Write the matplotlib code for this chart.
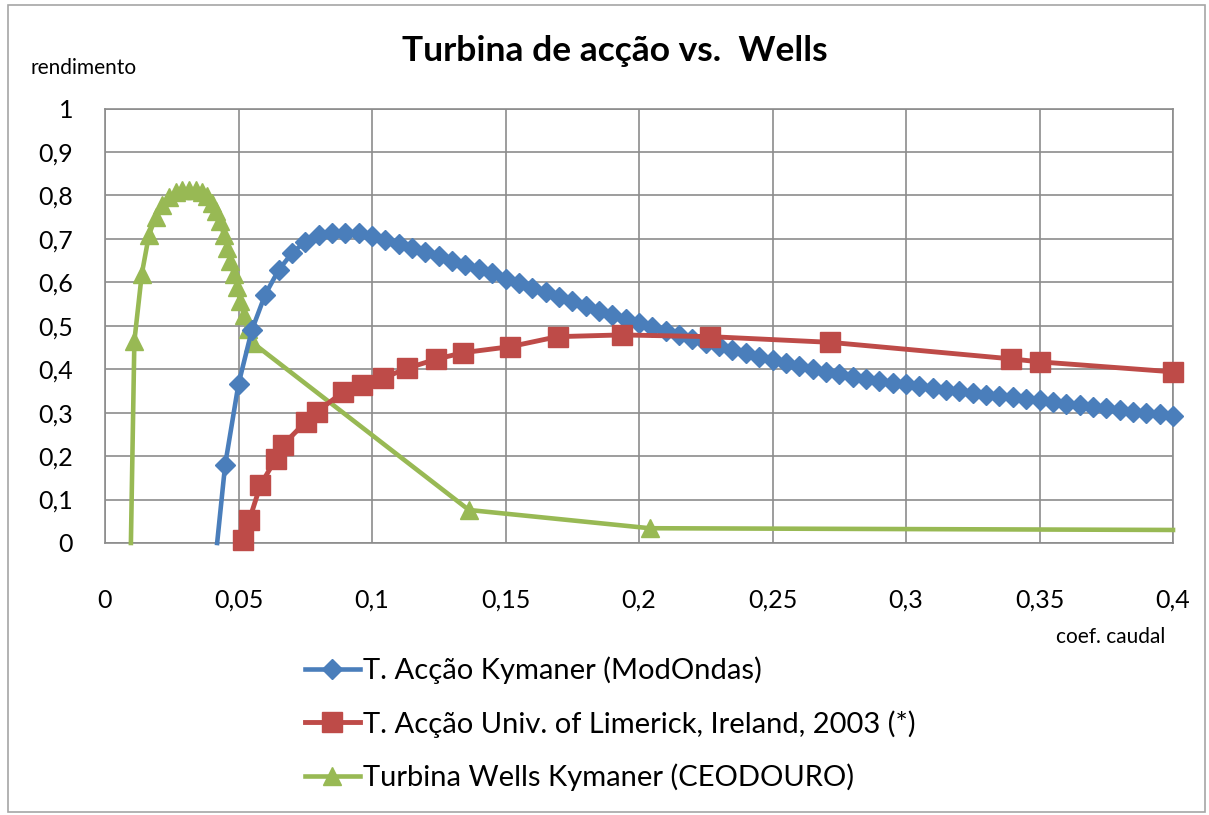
import matplotlib
matplotlib.use("Agg")
import matplotlib.pyplot as plt
from matplotlib.patches import Rectangle

# ---------------- data ----------------
# T. Acção Kymaner (ModOndas) - first point is the unmarked foot of the curve
blue_x = [0.042, 0.045, 0.050, 0.055, 0.060, 0.065, 0.070, 0.075, 0.080, 0.085,
          0.090, 0.095, 0.100, 0.105, 0.110, 0.115, 0.120, 0.125, 0.130, 0.135,
          0.140, 0.145, 0.150, 0.155, 0.160, 0.165, 0.170, 0.175, 0.180, 0.185,
          0.190, 0.195, 0.200, 0.205, 0.210, 0.215, 0.220, 0.225, 0.230, 0.235,
          0.240, 0.245, 0.250, 0.255, 0.260, 0.265, 0.270, 0.275, 0.280, 0.285,
          0.290, 0.295, 0.300, 0.305, 0.310, 0.315, 0.320, 0.325, 0.330, 0.335,
          0.340, 0.345, 0.350, 0.355, 0.360, 0.365, 0.370, 0.375, 0.380, 0.385,
          0.390, 0.395, 0.400]
blue_y = [0.0, 0.180, 0.366, 0.490, 0.572, 0.628, 0.667, 0.694, 0.708, 0.713,
          0.714, 0.714, 0.707, 0.698, 0.689, 0.680, 0.670, 0.660, 0.650, 0.641,
          0.631, 0.621, 0.608, 0.598, 0.587, 0.577, 0.566, 0.556, 0.545, 0.535,
          0.525, 0.515, 0.507, 0.497, 0.488, 0.479, 0.470, 0.461, 0.453, 0.445,
          0.437, 0.429, 0.421, 0.414, 0.407, 0.400, 0.394, 0.388, 0.383, 0.378,
          0.373, 0.369, 0.365, 0.361, 0.357, 0.353, 0.349, 0.345, 0.341, 0.338,
          0.335, 0.332, 0.329, 0.325, 0.321, 0.317, 0.313, 0.310, 0.306, 0.302,
          0.299, 0.296, 0.293]

# T. Acção Univ. of Limerick, Ireland, 2003 (*)
red_x = [0.0515, 0.0540, 0.0582, 0.0640, 0.0665, 0.0752, 0.0793, 0.0893, 0.0962,
         0.1040, 0.1130, 0.1240, 0.1340, 0.1518, 0.1695, 0.1935, 0.2267, 0.2715,
         0.3392, 0.3500, 0.4000]
red_y = [0.008, 0.052, 0.133, 0.194, 0.225, 0.279, 0.302, 0.348, 0.363,
         0.379, 0.402, 0.423, 0.438, 0.452, 0.475, 0.479, 0.475, 0.462,
         0.424, 0.417, 0.394]

# Turbina Wells Kymaner (CEODOURO) - first and last points drawn without marker
green_x = [0.0097, 0.0110, 0.0138, 0.0165, 0.0190, 0.0215, 0.0240, 0.0265, 0.0290,
           0.0315, 0.0340, 0.0362, 0.0382, 0.0400, 0.0415, 0.0430, 0.0445, 0.0458,
           0.0470, 0.0482, 0.0494, 0.0506, 0.0520, 0.0535, 0.0555, 0.1363, 0.2040,
           0.4000]
green_y = [0.0, 0.465, 0.620, 0.710, 0.750, 0.778, 0.797, 0.807, 0.812,
           0.813, 0.812, 0.807, 0.798, 0.783, 0.765, 0.742, 0.710, 0.680,
           0.650, 0.620, 0.590, 0.558, 0.525, 0.492, 0.460, 0.076, 0.034,
           0.030]

series_labels = ["T. Acção Kymaner (ModOndas)",
                 "T. Acção Univ. of Limerick, Ireland, 2003 (*)",
                 "Turbina Wells Kymaner (CEODOURO)"]

x_ticks = [0, 0.05, 0.1, 0.15, 0.2, 0.25, 0.3, 0.35, 0.4]
x_ticklabels = ["0", "0,05", "0,1", "0,15", "0,2", "0,25", "0,3", "0,35", "0,4"]
y_ticks = [0, 0.1, 0.2, 0.3, 0.4, 0.5, 0.6, 0.7, 0.8, 0.9, 1]
y_ticklabels = ["0", "0,1", "0,2", "0,3", "0,4", "0,5", "0,6", "0,7", "0,8", "0,9", "1"]

# ---------------- figure ----------------
plt.rcParams['font.family'] = ['Lato', 'DejaVu Sans']

W, H = 1209, 815
fig = plt.figure(figsize=(W / 100, H / 100), dpi=100)
fig.patch.set_facecolor("white")

# outer chart border
fig.patches.append(Rectangle((8 / W, 1 - 812 / H), 1197 / W, 807 / H,
                             transform=fig.transFigure, fill=False,
                             edgecolor="#a6a6a6", linewidth=1.2))

left, right, top, bottom = 105, 1173, 108.6, 543
ax = fig.add_axes([left / W, 1 - bottom / H, (right - left) / W, (bottom - top) / H])

BLUE, RED, GREEN = "#4A7EBB", "#BE4B48", "#98B954"

ax.plot(green_x, green_y, color=GREEN, lw=3.3, marker="^", ms=13,
        markevery=list(range(1, len(green_x) - 1)), label=series_labels[2], zorder=3)
ax.plot(blue_x, blue_y, color=BLUE, lw=3.3, marker="D", ms=10,
        markevery=list(range(1, len(blue_x))), label=series_labels[0], zorder=4)
ax.plot(red_x, red_y, color=RED, lw=3.5, marker="s", ms=14,
        label=series_labels[1], zorder=5)

ax.set_xlim(0, 0.4)
ax.set_ylim(0, 1)
ax.set_xticks(x_ticks)
ax.set_xticklabels(x_ticklabels)
ax.set_yticks(y_ticks)
ax.set_yticklabels(y_ticklabels)
ax.tick_params(length=0, labelsize=18, colors="black")
ax.tick_params(axis="x", pad=33)
ax.tick_params(axis="y", pad=23)
ax.grid(True, color="#8c8c8c", lw=1.2)
ax.set_axisbelow(True)
for s in ax.spines.values():
    s.set_color("#8c8c8c")
    s.set_linewidth(1.2)
for c in ax.lines:
    c.set_clip_on(False)

fig.text(615 / W, 1 - 51 / H, "Turbina de acção vs.  Wells", ha="center", va="center",
         fontsize=25.5, fontweight="bold")
fig.text(30 / W, 1 - 68 / H, "rendimento", ha="left", va="center", fontsize=15)
fig.text(1165 / W, 1 - 637 / H, "coef. caudal", ha="right", va="center", fontsize=15)

h, l = ax.get_legend_handles_labels()
handles = [h[l.index(s)] for s in series_labels]
fig.legend(handles, series_labels, loc="upper left",
           bbox_to_anchor=(293 / W, 1 - 645 / H), frameon=False, fontsize=21,
           handlelength=1.9, handletextpad=0.1, labelspacing=0.88, numpoints=1,
           borderaxespad=0)

fig.savefig("out.png", dpi=100)
